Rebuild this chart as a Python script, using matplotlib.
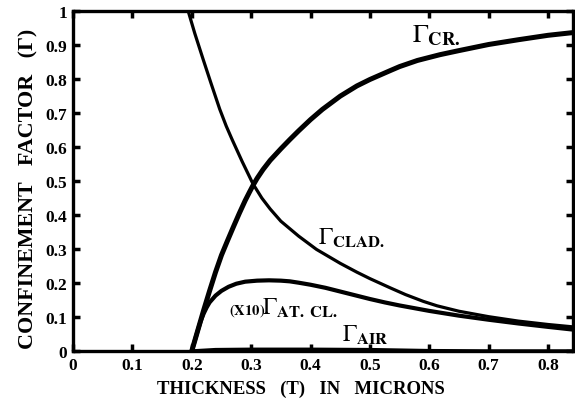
import matplotlib
matplotlib.use("Agg")
import matplotlib.pyplot as plt

plt.rcParams['font.family'] = ['Liberation Serif', 'DejaVu Serif']
plt.rcParams['mathtext.fontset'] = 'stix'

# Data
cr_x = [0.200, 0.205, 0.210, 0.215, 0.220, 0.230, 0.240, 0.250, 0.260, 0.270, 0.280,
        0.290, 0.297, 0.303, 0.310, 0.320, 0.332, 0.350, 0.365, 0.380, 0.400, 0.420,
        0.450, 0.478, 0.500, 0.534, 0.550, 0.580, 0.618, 0.650, 0.700, 0.750, 0.800,
        0.842]
cr_y = [0.000, 0.030, 0.060, 0.090, 0.120, 0.177, 0.232, 0.282, 0.324, 0.365, 0.405,
        0.443, 0.467, 0.487, 0.508, 0.534, 0.561, 0.595, 0.622, 0.648, 0.681, 0.711,
        0.750, 0.780, 0.799, 0.825, 0.837, 0.855, 0.872, 0.884, 0.902, 0.916, 0.929,
        0.937]

clad_x = [0.190, 0.194, 0.205, 0.219, 0.232, 0.247, 0.258, 0.268, 0.285, 0.303,
          0.318, 0.332, 0.350, 0.380, 0.410, 0.450, 0.478, 0.500, 0.534, 0.560,
          0.590, 0.613, 0.650, 0.700, 0.750, 0.800, 0.842]
clad_y = [1.030, 1.000, 0.935, 0.859, 0.790, 0.712, 0.662, 0.622, 0.557, 0.492,
          0.450, 0.418, 0.382, 0.338, 0.299, 0.258, 0.232, 0.213, 0.186, 0.166,
          0.146, 0.133, 0.117, 0.101, 0.088, 0.078, 0.071]

atcl_x = [0.200, 0.205, 0.210, 0.215, 0.220, 0.225, 0.230, 0.240, 0.250, 0.262,
          0.275, 0.290, 0.310, 0.330, 0.350, 0.365, 0.380, 0.400, 0.425, 0.450,
          0.475, 0.500, 0.525, 0.550, 0.575, 0.600, 0.625, 0.650, 0.700, 0.750,
          0.800, 0.842]
atcl_y = [0.000, 0.030, 0.060, 0.088, 0.110, 0.128, 0.143, 0.163, 0.177, 0.189,
          0.198, 0.204, 0.207, 0.208, 0.207, 0.205, 0.201, 0.195, 0.186, 0.175,
          0.164, 0.153, 0.143, 0.134, 0.126, 0.118, 0.111, 0.104, 0.092, 0.081,
          0.071, 0.063]

air_x = [0.200, 0.240, 0.300, 0.400, 0.500, 0.600, 0.700, 0.842]
air_y = [0.000, 0.004, 0.005, 0.005, 0.004, 0.001, 0.000, 0.000]

xticks = [0, 0.1, 0.2, 0.3, 0.4, 0.5, 0.6, 0.7, 0.8]
xtick_labels = ['0', '0.1', '0.2', '0.3', '0.4', '0.5', '0.6', '0.7', '0.8']
yticks = [0, 0.1, 0.2, 0.3, 0.4, 0.5, 0.6, 0.7, 0.8, 0.9, 1.0]
ytick_labels = ['0', '0.1', '0.2', '0.3', '0.4', '0.5', '0.6', '0.7', '0.8', '0.9', '1']

fig = plt.figure(figsize=(5.75, 4.06), dpi=100)
ax = fig.add_axes([0.127, 0.133, 0.8695, 0.837])

ax.plot(cr_x, cr_y, color='black', lw=3.6, solid_capstyle='butt')
ax.plot(clad_x, clad_y, color='black', lw=2.3)
ax.plot(atcl_x, atcl_y, color='black', lw=3.0)
ax.plot(air_x, air_y, color='black', lw=2.5)

ax.set_xlim(0, 0.842)
ax.set_ylim(0, 1)
ax.set_xticks(xticks)
ax.set_xticklabels(xtick_labels, fontsize=12.5, fontweight='bold')
ax.set_yticks(yticks)
ax.set_yticklabels(ytick_labels, fontsize=12.5, fontweight='bold')
ax.tick_params(direction='in', length=5, width=2.5, top=True, right=True, pad=4)
for s in ax.spines.values():
    s.set_linewidth(2.4)

ax.set_xlabel('THICKNESS   (T)   IN   MICRONS', fontsize=13.5, fontweight='bold',
              labelpad=5, x=0.455)
ax.set_ylabel('CONFINEMENT   FACTOR   (Γ)', fontsize=15.8, fontweight='bold', labelpad=5,
              y=0.48)

ax.text(0.571, 0.912, r'$\Gamma_{\mathbf{CR.}}$', fontsize=19, ha='left', va='baseline')
ax.text(0.412, 0.315, r'$\Gamma_{\mathbf{CLAD.}}$', fontsize=17, ha='left', va='baseline')
ax.text(0.262, 0.109, r'$\mathbf{(X10)}$', fontsize=10.5, ha='left', va='baseline')
ax.text(0.318, 0.109, r'$\Gamma_{\mathbf{AT.\ CL.}}$', fontsize=17, ha='left', va='baseline')
ax.text(0.453, 0.029, r'$\Gamma_{\mathbf{AIR}}$', fontsize=17, ha='left', va='baseline')

fig.savefig('out.png', dpi=100)
